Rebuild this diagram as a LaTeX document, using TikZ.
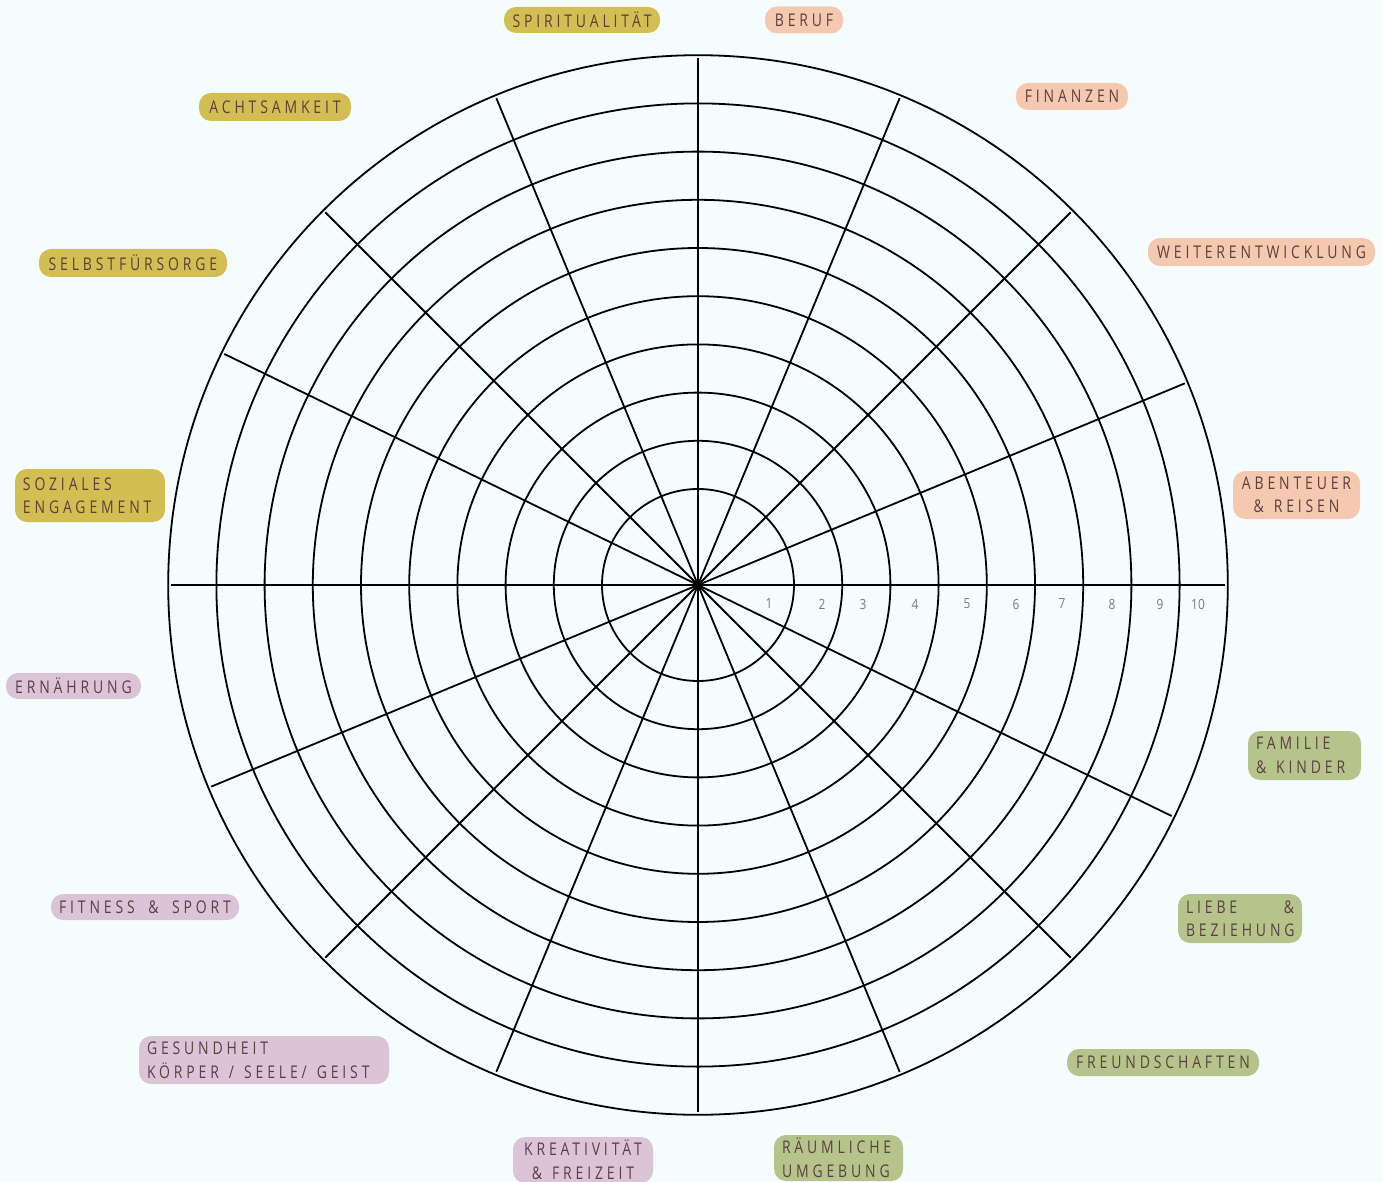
\documentclass[tikz,border=0pt]{standalone}
\usepackage{fontspec}
\usetikzlibrary{calc}
\setmainfont{Open Sans}
\newfontfamily\labfont[LetterSpace=22,FakeStretch=0.8,WordSpace=1.8]{Open Sans}
\newfontfamily\numfont[FakeStretch=0.85]{Open Sans}
\newcommand\wsp{\hspace{10pt}}
\definecolor{bg}{HTML}{F5FCFD}
\definecolor{mustard}{HTML}{D2BE52}
\definecolor{peach}{HTML}{F5C9B0}
\definecolor{sage}{HTML}{B6C48C}
\definecolor{lilac}{HTML}{DBC4D8}
\definecolor{txt}{HTML}{5B4040}
\definecolor{numgrey}{HTML}{7A7A7A}
\tikzset{
  ring/.style={draw=black,line width=1.8pt},
  spoke/.style={draw=black,line width=1.8pt},
  pill/.style={rounded corners=12pt,inner xsep=8pt,inner ysep=0pt,text=txt,
    font=\labfont\fontsize{17.5}{23.5}\selectfont,anchor=center},
  numlab/.style={text=numgrey,font=\numfont\fontsize{14}{15}\selectfont,inner sep=0pt}
}
\begin{document}
\begin{tikzpicture}[x=1pt,y=-1pt]
\fill[bg] (0,0) rectangle (1382,1182);
\useasboundingbox (0,0) rectangle (1382,1182);
\clip (0,0) rectangle (1382,1182);
\coordinate (c) at (698,585);
% rings
\foreach \k in {0,...,9}{
  \draw[ring] (c) circle[radius={96+48.2*\k}];
}
% spokes (y axis points down, so angles run clockwise on the page)
\foreach \a in {0,26,45,67.5,90,112.5,135,157.5}{
  \draw[spoke] ($(c)+(\a:527)$) -- ($(c)+(\a+180:527)$);
}
% scale numbers
\foreach \n/\x in {1/769,2/822,3/863,4/915,5/967,6/1016,7/1062,8/1112,9/1160,10/1198}{
  \node[numlab] (n\n) at (\x,604) {\n};
}
% labels
\node[pill,fill=mustard,minimum width=156pt,minimum height=26pt] (spir) at (582,20) {SPIRITUALITÄT};
\node[pill,fill=peach,minimum width=78pt,minimum height=27pt] (beruf) at (804,20) {BERUF};
\node[pill,fill=mustard,minimum width=152pt,minimum height=28pt] (acht) at (275,107) {ACHTSAMKEIT};
\node[pill,fill=peach,minimum width=112pt,minimum height=27pt] (fin) at (1072,96.5) {FINANZEN};
\node[pill,fill=mustard,minimum width=188pt,minimum height=28pt] (selbst) at (133,263) {SELBSTFÜRSORGE};
\node[pill,fill=peach,minimum width=227pt,minimum height=28pt] (weiter) at (1261.5,252) {WEITERENTWICKLUNG};
\node[pill,fill=mustard,text width=134pt,align=left,minimum height=53pt] (soz) at (90,495.5) {SOZIALES\\ENGAGEMENT};
\node[pill,fill=peach,text width=111pt,align=center,minimum height=48pt] (abent) at (1296.5,495) {ABENTEUER\\\&\wsp REISEN};
\node[pill,fill=lilac,minimum width=135pt,minimum height=26pt] (ern) at (73.5,686) {ERNÄHRUNG};
\node[pill,fill=sage,text width=97pt,align=left,minimum height=49pt] (fam) at (1304.5,755.5) {FAMILIE\\\&\wsp KINDER};
\node[pill,fill=sage,text width=108pt,align=left,minimum height=49pt] (liebe) at (1240,918.5) {LIEBE\hfill\&\\BEZIEHUNG};
\node[pill,fill=lilac,minimum width=188pt,minimum height=26pt] (fit) at (145,907) {FITNESS \& SPORT};
\node[pill,fill=sage,minimum width=192pt,minimum height=27pt] (freund) at (1163,1062.5) {FREUNDSCHAFTEN};
\node[pill,fill=lilac,text width=234pt,align=left,minimum height=48pt] (gesund) at (264,1060) {GESUNDHEIT\\KÖRPER\wsp/\wsp SEELE/\wsp GEIST};
\node[pill,fill=lilac,text width=124pt,align=center,minimum height=46pt] (kreat) at (583,1160) {KREATIVITÄT\\\&\wsp FREIZEIT};
\node[pill,fill=sage,text width=113pt,align=left,minimum height=46pt] (raum) at (838.5,1158) {RÄUMLICHE\\UMGEBUNG};
\end{tikzpicture}
\end{document}
